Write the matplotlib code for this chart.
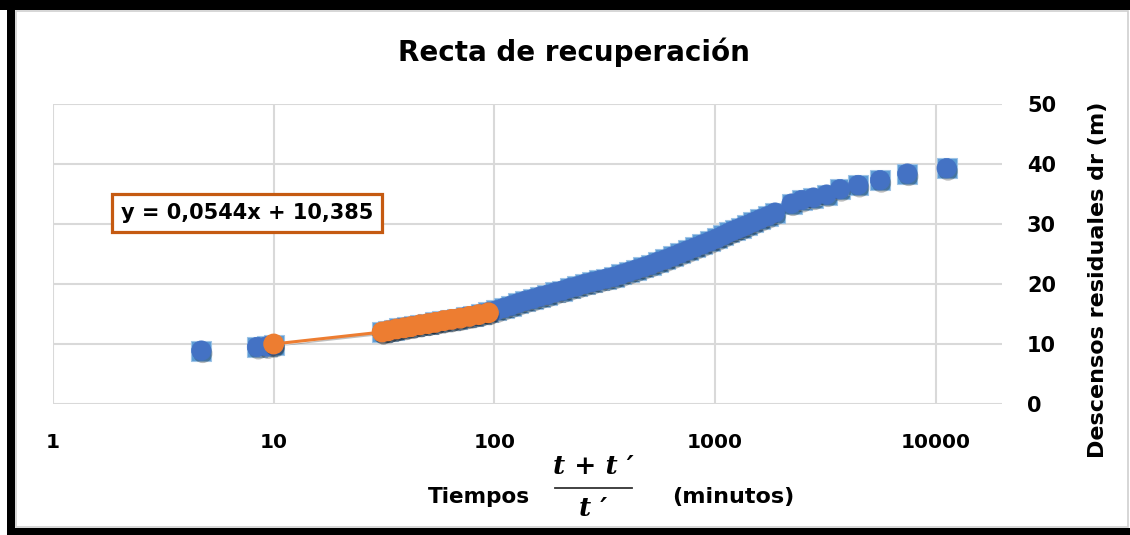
import matplotlib
matplotlib.use("Agg")
import matplotlib.pyplot as plt
import matplotlib.patheffects as pe
from matplotlib.patches import Rectangle
from matplotlib.lines import Line2D

# ---- data ----
blue_x = [4.7, 8.4, 9.3, 10.0, 31, 33, 35, 37, 40, 43, 46, 50, 54, 58, 63, 68, 74, 80,
          87, 94, 102, 110, 119, 128, 138, 149, 161, 174, 188, 203, 219, 237, 256, 276,
          298, 322, 348, 376, 406, 438, 473, 511, 552, 596, 644, 695, 751, 811, 876,
          946, 1020, 1090, 1160, 1230, 1310, 1390, 1490, 1600, 1730, 1870, 2220, 2470,
          2790, 3200, 3680, 4450, 5590, 7430, 11200]
blue_y = [8.9, 9.5, 9.6, 9.8, 12.0, 12.2, 12.4, 12.6, 12.8, 13.0, 13.2, 13.4, 13.6, 13.8,
          14.0, 14.2, 14.5, 14.7, 15.0, 15.3, 15.6, 16.0, 16.4, 16.8, 17.2, 17.5, 17.9,
          18.2, 18.6, 18.9, 19.3, 19.6, 20.0, 20.3, 20.6, 20.9, 21.2, 21.6, 22.0, 22.4,
          22.8, 23.2, 23.7, 24.1, 24.6, 25.1, 25.6, 26.1, 26.6, 27.1, 27.6, 28.1, 28.6,
          29.0, 29.4, 29.8, 30.3, 30.8, 31.3, 31.9, 33.4, 34.0, 34.4, 34.9, 35.8, 36.5,
          37.3, 38.4, 39.3]
orange_x = [10, 31, 33, 36, 39, 42, 46, 50, 54, 59, 64, 70, 77, 85, 94]
orange_y = [10.0, 12.0, 12.2, 12.5, 12.7, 12.9, 13.2, 13.4, 13.6, 13.9, 14.1, 14.3, 14.6, 14.9, 15.2]

x_ticks = [1, 10, 100, 1000, 10000]
x_ticklabels = ["1", "10", "100", "1000", "10000"]
y_ticks = [0, 10, 20, 30, 40, 50]

title = "Recta de recuperación"
equation = "y = 0,0544x + 10,385"
y_label = "Descensos residuales dr (m)"
frac_num = "t + t \u2032"
frac_den = "t \u2032"

plt.rcParams['font.family'] = ['DejaVu Sans']

fig = plt.figure(figsize=(11.3, 5.35), dpi=100)
ax = fig.add_axes([53 / 1130, 1 - 404 / 535, (1002 - 53) / 1130, (404 - 104) / 535])

shadow = [pe.SimplePatchShadow(offset=(1.0, -2.0), shadow_rgbFace='black', alpha=0.25), pe.Normal()]

ax.plot(blue_x, blue_y, linestyle='none', marker='s', markersize=14.5,
        markerfacecolor='#5B9BD5', markeredgecolor='#9DC3E6', markeredgewidth=0.8,
        zorder=3)
ax.plot(blue_x, blue_y, linestyle='none', marker='o', markersize=14,
        markerfacecolor='#4472C4', markeredgecolor='#4472C4', markeredgewidth=0.5,
        zorder=4, path_effects=shadow)
ax.plot(orange_x, orange_y, linestyle='-', color='#ED7D31', linewidth=2.2,
        marker='o', markersize=14, markerfacecolor='#ED7D31', markeredgecolor='#ED7D31',
        zorder=5, path_effects=shadow)

ax.set_xscale('log')
ax.set_xlim(1, 19950)
ax.set_ylim(0, 50)
ax.set_xticks(x_ticks)
ax.set_xticklabels(x_ticklabels)
ax.xaxis.set_minor_locator(matplotlib.ticker.NullLocator())
ax.set_yticks(y_ticks)
ax.yaxis.tick_right()
ax.tick_params(axis='x', length=0, pad=21, labelsize=14.5)
ax.tick_params(axis='y', length=0, pad=18, labelsize=15)
for lab in ax.get_xticklabels() + ax.get_yticklabels():
    lab.set_fontweight('bold')
ax.grid(True, which='major', color='#D9D9D9', linewidth=1.5)
for s in ax.spines.values():
    s.set_visible(False)
ax.set_axisbelow(True)

fig.text(574 / 1130, 0.903, title, ha='center', va='center', fontsize=20, fontweight='bold')
fig.text(247 / 1130, 1 - 213 / 535, equation, ha='center', va='center', fontsize=15,
         fontweight='bold',
         bbox=dict(boxstyle='square,pad=0.42', facecolor='white', edgecolor='#C55A11', linewidth=2.3))
fig.text(1098 / 1130, 1 - 280 / 535, y_label, rotation=90, ha='center', va='center',
         fontsize=16, fontweight='bold')

fig.text(479 / 1130, 1 - 497 / 535, "Tiempos", ha='center', va='center', fontsize=15.5, fontweight='bold')
fig.text(593 / 1130, 1 - 466 / 535, frac_num, ha='center', va='center', fontsize=19,
         family='DejaVu Serif', style='italic', fontweight='bold')
fig.text(593 / 1130, 1 - 508 / 535, frac_den, ha='center', va='center', fontsize=19,
         family='DejaVu Serif', style='italic', fontweight='bold')
fig.add_artist(Line2D([555 / 1130, 632 / 1130], [1 - 488 / 535, 1 - 488 / 535],
                      transform=fig.transFigure, color='#333333', linewidth=1.3))
fig.text(733 / 1130, 1 - 497 / 535, "(minutos)", ha='center', va='center', fontsize=16, fontweight='bold')

# chart frame
fig.patches.append(Rectangle((0, 1 - 10 / 535), 1, 10 / 535, transform=fig.transFigure,
                             facecolor='black', edgecolor='none'))
fig.patches.append(Rectangle((7 / 1130, 0), 8 / 1130, 1, transform=fig.transFigure,
                             facecolor='black', edgecolor='none'))
fig.patches.append(Rectangle((7 / 1130, 0), 1, 7 / 535, transform=fig.transFigure,
                             facecolor='black', edgecolor='none'))
fig.patches.append(Rectangle((16 / 1130, 8 / 535), (1128 - 16) / 1130, (524 - 8) / 535,
                             transform=fig.transFigure, facecolor='none',
                             edgecolor='#D0D0D0', linewidth=1.2))

fig.savefig("out.png", dpi=100)
